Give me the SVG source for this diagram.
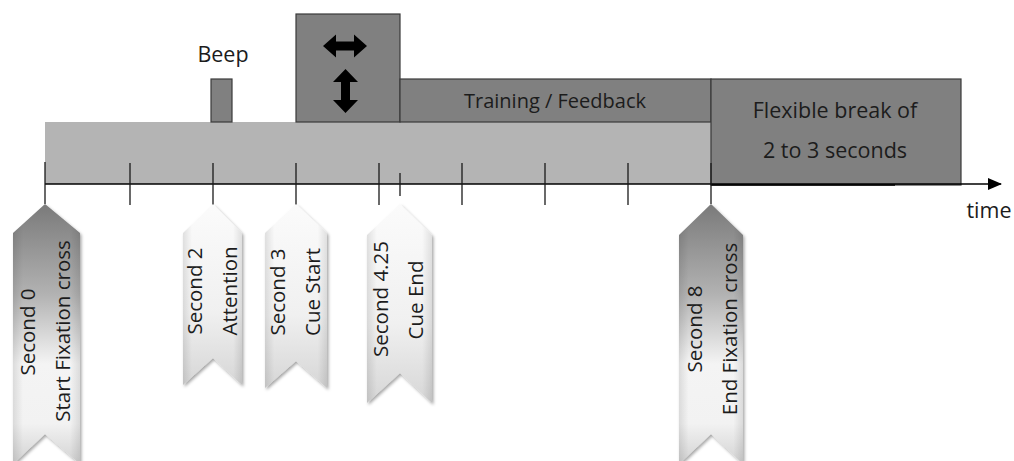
<svg xmlns="http://www.w3.org/2000/svg" width="1014" height="461" viewBox="0 0 1014 461">
<defs>
<style>
.t{font-family:"Open Sans","Noto Sans","DejaVu Sans",sans-serif;fill:#1c1c1c;}
.r{font-size:20.5px;}
.box{fill:#808080;stroke:#3a3a3a;stroke-width:1.2;}
.tick{stroke:#1a1a1a;stroke-width:1.3;fill:none;}
.arr{fill:#000;}
</style>
<linearGradient id="gDark" gradientUnits="userSpaceOnUse" x1="0" y1="204" x2="0" y2="462">
<stop offset="0" stop-color="#7a7a7a"/>
<stop offset="0.35" stop-color="#b2b2b2"/>
<stop offset="0.62" stop-color="#f4f4f4"/>
<stop offset="0.85" stop-color="#f2f2f2"/>
<stop offset="1" stop-color="#d4d4d4"/>
</linearGradient>
<linearGradient id="gLight" x1="0" y1="0" x2="0" y2="1">
<stop offset="0" stop-color="#fbfbfb"/>
<stop offset="0.6" stop-color="#f0f0f0"/>
<stop offset="1" stop-color="#d6d6d6"/>
</linearGradient>
<linearGradient id="gSide" x1="0" y1="0" x2="1" y2="0">
<stop offset="0" stop-color="#000" stop-opacity="0.10"/>
<stop offset="0.15" stop-color="#000" stop-opacity="0"/>
<stop offset="0.85" stop-color="#000" stop-opacity="0"/>
<stop offset="1" stop-color="#000" stop-opacity="0.10"/>
</linearGradient>
<filter id="sh" x="-20%" y="-10%" width="140%" height="120%">
<feDropShadow dx="1.5" dy="2" stdDeviation="1.8" flood-color="#000" flood-opacity="0.35"/>
</filter>
<marker id="ah" markerWidth="14" markerHeight="12" refX="13" refY="6" orient="auto" markerUnits="userSpaceOnUse">
<path d="M0,0 L14,6 L0,12 Z" fill="#000"/>
</marker>
</defs>

<g id="fixation-bar">
<rect x="45" y="122" width="666" height="62" fill="#b4b4b4"/>
</g>

<g id="beep">
<rect class="box" x="211" y="79" width="21" height="43"/>
<text class="t" x="223" y="62" font-size="21.5" text-anchor="middle">Beep</text>
</g>

<g id="cue">
<rect class="box" x="296" y="14" width="104" height="108"/>
<path class="arr" d="M323,46 L336,34.5 L336,41.5 L354,41.5 L354,34.5 L367,46 L354,57.5 L354,50.5 L336,50.5 L336,57.5 Z"/>
<path class="arr" d="M345.5,69 L358,82 L350,82 L350,100 L358,100 L345.5,113 L333,100 L341,100 L341,82 L333,82 Z"/>
</g>

<g id="training">
<rect class="box" x="400" y="79" width="311" height="43"/>
<text class="t" x="555" y="108" font-size="20" text-anchor="middle">Training / Feedback</text>
</g>

<g id="break">
<rect class="box" x="711" y="79" width="250" height="106"/>
<text class="t" x="835" y="118" font-size="21.5" text-anchor="middle">Flexible break of</text>
<text class="t" x="835" y="158" font-size="21.5" text-anchor="middle">2 to 3 seconds</text>
</g>

<g id="connectors">
<line x1="45" y1="184" x2="1001" y2="184" stroke="#000" stroke-width="1.5" marker-end="url(#ah)"/>
<line x1="711" y1="185" x2="895" y2="185" stroke="#000" stroke-width="1.5"/>
<line class="tick" x1="45" y1="162" x2="45" y2="204"/>
<line class="tick" x1="130" y1="163" x2="130" y2="205"/>
<line class="tick" x1="213" y1="163" x2="213" y2="205"/>
<line class="tick" x1="296" y1="163" x2="296" y2="205"/>
<line class="tick" x1="379" y1="163" x2="379" y2="205"/>
<line class="tick" x1="400" y1="173" x2="400" y2="196"/>
<line class="tick" x1="462" y1="163" x2="462" y2="205"/>
<line class="tick" x1="545" y1="163" x2="545" y2="205"/>
<line class="tick" x1="628" y1="163" x2="628" y2="205"/>
<line class="tick" x1="711" y1="163" x2="711" y2="204"/>
</g>

<g id="time-label">
<text class="t" x="989" y="218" font-size="21.5" text-anchor="middle">time</text>
</g>

<g id="marker-0">
<path d="M13,233 L45,204 L80,233 L80,464 L45,434 L13,464 Z" fill="url(#gDark)" filter="url(#sh)"/>
<path d="M13,233 L45,204 L80,233 L80,464 L45,434 L13,464 Z" fill="url(#gSide)"/>
<text class="t r" text-anchor="middle" transform="translate(35,332) rotate(-90)">Second 0</text>
<text class="t r" text-anchor="middle" transform="translate(70,331) rotate(-90)">Start Fixation cross</text>
</g>

<g id="marker-2">
<path d="M183,233 L213,204 L242,233 L242,385 L213,358 L183,385 Z" fill="url(#gLight)" filter="url(#sh)"/>
<path d="M183,233 L213,204 L242,233 L242,385 L213,358 L183,385 Z" fill="url(#gSide)"/>
<text class="t r" text-anchor="middle" transform="translate(202,291) rotate(-90)">Second 2</text>
<text class="t r" text-anchor="middle" transform="translate(237,291) rotate(-90)">Attention</text>
</g>

<g id="marker-3">
<path d="M265,233 L296,204 L327,233 L327,388 L296,361 L265,388 Z" fill="url(#gLight)" filter="url(#sh)"/>
<path d="M265,233 L296,204 L327,233 L327,388 L296,361 L265,388 Z" fill="url(#gSide)"/>
<text class="t r" text-anchor="middle" transform="translate(285,292) rotate(-90)">Second 3</text>
<text class="t r" text-anchor="middle" transform="translate(320,292) rotate(-90)">Cue Start</text>
</g>

<g id="marker-425">
<path d="M367,235 L400,204 L432,235 L432,403 L400,373 L367,403 Z" fill="url(#gLight)" filter="url(#sh)"/>
<path d="M367,235 L400,204 L432,235 L432,403 L400,373 L367,403 Z" fill="url(#gSide)"/>
<text class="t r" text-anchor="middle" transform="translate(388,299) rotate(-90)">Second 4.25</text>
<text class="t r" text-anchor="middle" transform="translate(423,300) rotate(-90)">Cue End</text>
</g>

<g id="marker-8">
<path d="M679,235 L711,204 L743,235 L743,464 L711,434 L679,464 Z" fill="url(#gDark)" filter="url(#sh)"/>
<path d="M679,235 L711,204 L743,235 L743,464 L711,434 L679,464 Z" fill="url(#gSide)"/>
<text class="t r" text-anchor="middle" transform="translate(702,329) rotate(-90)">Second 8</text>
<text class="t r" text-anchor="middle" transform="translate(737,329) rotate(-90)">End Fixation cross</text>
</g>
</svg>
